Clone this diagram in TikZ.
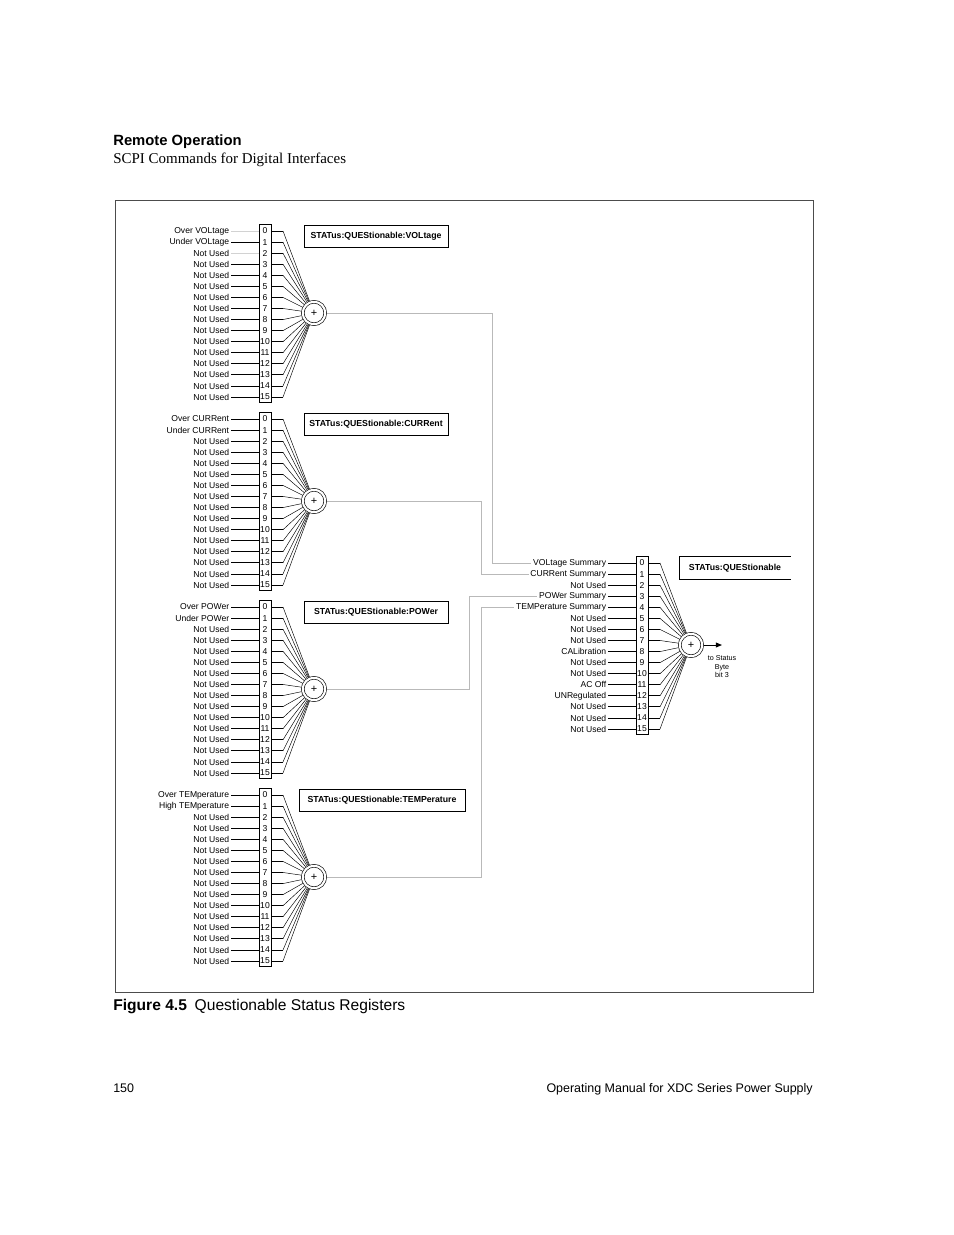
\documentclass[tikz,border=0pt]{standalone}
\usepackage{fontspec}
\setmainfont{Liberation Serif}
\setsansfont{Liberation Sans}
\usetikzlibrary{arrows.meta,positioning,calc}
\tikzset{
  >={Triangle[length=4pt,width=3.2pt]},
  bitlab/.style={font=\sffamily\fontsize{5.5}{6}\selectfont,anchor=east,inner sep=1pt},
  bitnum/.style={font=\sffamily\fontsize{5.5}{6}\selectfont,inner sep=0pt},
  regbox/.style={draw,line width=0.6pt,minimum width=7.7pt,minimum height=114.2pt,inner sep=0pt},
  inline/.style={line width=0.6pt},
  fanline/.style={line width=0.3pt},
  sumnode/.style={draw,circle,double,double distance=1.4pt,line width=0.4pt,minimum size=14.4pt,inner sep=0pt,outer sep=1.1pt,font=\sffamily\fontsize{7}{7}\selectfont},
  titlebox/.style={draw,line width=0.6pt,minimum height=14.1pt,inner sep=0pt,font=\sffamily\bfseries\fontsize{5.6}{6}\selectfont},
  sumline/.style={gray!55,line width=0.6pt}
}
% one 16-bit register with its summing node
\newcommand{\regblock}[4]{%
  \node[regbox] (#1box) at (#2+6,#3+83) {};
  \node[sumnode] (#1sum) at (#2+55,#3+83) {+};
  \foreach \lab [count=\i from 0] in {#4} {
    \node[bitnum] (#1b\i) at (#2+6,#3+1+\i*11.07) {\i};
    \node[bitlab] (#1l\i) at (#2-28,#3+1+\i*11.07) {\lab};
    \coordinate (#1o\i) at (#2+24,#3+1+\i*11.07);
    \draw[inline] (#1l\i.east) -- (#1l\i.east -| #1box.west);
    \draw[inline] (#1box.east |- #1b\i) -- (#1o\i);
    \draw[fanline] (#1o\i) -- (#1sum);
  }
}
\begin{document}
\begin{tikzpicture}[x=0.6415pt,y=-0.6415pt]
\useasboundingbox (0,0) rectangle (954,1235);
\node[anchor=base west,inner sep=0pt,font=\sffamily\bfseries\fontsize{9.5}{11}\selectfont] (hd) at (113,145) {Remote Operation};
\node[anchor=base west,inner sep=0pt,font=\fontsize{9.6}{12}\selectfont] (sub) at (113,163) {SCPI Commands for Digital Interfaces};
\draw[black!70,line width=0.5pt] (115,200) rectangle (813,992);

\regblock{v}{259}{230}{Over VOLtage,Under VOLtage,Not Used,Not Used,Not Used,Not Used,Not Used,Not Used,Not Used,Not Used,Not Used,Not Used,Not Used,Not Used,Not Used,Not Used}
\draw[inline,gray!35] (vl0.east) -- (vl0.east -| vbox.west);
\draw[inline,gray!35] (vl2.east) -- (vl2.east -| vbox.west);
\regblock{c}{259}{418}{Over CURRent,Under CURRent,Not Used,Not Used,Not Used,Not Used,Not Used,Not Used,Not Used,Not Used,Not Used,Not Used,Not Used,Not Used,Not Used,Not Used}
\regblock{p}{259}{606}{Over POWer,Under POWer,Not Used,Not Used,Not Used,Not Used,Not Used,Not Used,Not Used,Not Used,Not Used,Not Used,Not Used,Not Used,Not Used,Not Used}
\regblock{t}{259}{794}{Over TEMperature,High TEMperature,Not Used,Not Used,Not Used,Not Used,Not Used,Not Used,Not Used,Not Used,Not Used,Not Used,Not Used,Not Used,Not Used,Not Used}
\regblock{q}{636}{562}{VOLtage Summary,CURRent Summary,Not Used,POWer Summary,TEMPerature Summary,Not Used,Not Used,Not Used,CALibration,Not Used,Not Used,AC Off,UNRegulated,Not Used,Not Used,Not Used}

\node[titlebox,minimum width=92.4pt] (vtitle) at (376,236) {STATus:QUEStionable:VOLtage};
\node[titlebox,minimum width=92.4pt] (ctitle) at (376,424) {STATus:QUEStionable:CURRent};
\node[titlebox,minimum width=92.4pt] (ptitle) at (376,612) {STATus:QUEStionable:POWer};
\node[titlebox,minimum width=106.5pt] (ttitle) at (382,800) {STATus:QUEStionable:TEMPerature};
\node[titlebox,draw=none,minimum width=70.6pt] (qtitle) at (735,568) {STATus:QUEStionable};
\draw[line width=0.6pt] (qtitle.north east) -- (qtitle.north west) -- (qtitle.south west) -- (qtitle.south east);

% summaries into the main register
\coordinate (vbend) at (492,313);
\coordinate (cbend) at (481,501);
\coordinate (pbend) at (469,689);
\coordinate (tbend) at (481,877);
\draw[sumline] (vsum) -- (vbend) |- (ql0.west);
\draw[sumline] (csum) -- (cbend) |- (ql1.west);
\draw[sumline] (psum) -- (pbend) |- (ql3.west);
\draw[sumline] (tsum) -- (tbend) |- (ql4.west);

\coordinate (qout) at (722,645);
\draw[->,inline] (qsum) -- (qout);
\node[font=\sffamily\fontsize{4.6}{5.6}\selectfont,align=center,anchor=north,inner sep=0pt] (tostat) at (722,655) {to Status\\Byte\\bit 3};

\node[anchor=base west,inner sep=0pt,font=\sffamily\fontsize{10}{12}\selectfont] (cap) at (113,1010) {\textbf{Figure 4.5}\hspace{0.5em}Questionable Status Registers};
\node[anchor=base west,inner sep=0pt,font=\sffamily\fontsize{8}{10}\selectfont] (pg) at (113,1092) {150};
\node[anchor=base east,inner sep=0pt,font=\sffamily\fontsize{8}{10}\selectfont] (man) at (813,1092) {Operating Manual for XDC Series Power Supply};
\end{tikzpicture}
\end{document}
